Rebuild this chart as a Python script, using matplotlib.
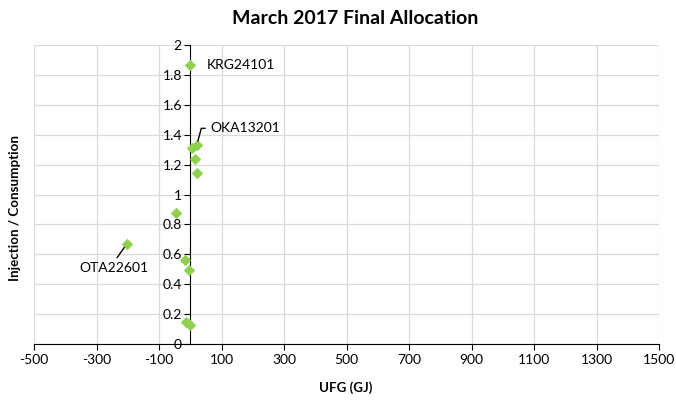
import matplotlib
matplotlib.use("Agg")
import matplotlib.pyplot as plt

ufg = [-2, 5, 21, 14, 21, -45, -203, -16, -3, -13, 0]
ratio = [1.866, 1.309, 1.331, 1.235, 1.142, 0.874, 0.669, 0.562, 0.495, 0.149, 0.125]
xticks = list(range(-500, 1501, 200))
yticks = [0, 0.2, 0.4, 0.6, 0.8, 1, 1.2, 1.4, 1.6, 1.8, 2]
ylabels = ["0", "0.2", "0.4", "0.6", "0.8", "1", "1.2", "1.4", "1.6", "1.8", "2"]

plt.rcParams['font.family'] = ['Lato', 'DejaVu Sans']
plt.rcParams['axes.unicode_minus'] = False

fig = plt.figure(figsize=(6.76, 4.0), dpi=100)
ax = fig.add_axes([34/676, 1 - 344/400, 625/676, 299/400])

ax.scatter(ufg, ratio, marker='D', s=34, color='#8fd14f', zorder=3, linewidths=0)

ax.set_xlim(-500, 1500)
ax.set_ylim(0, 2)
ax.set_xticks(xticks)
ax.set_yticks(yticks)
ax.set_yticklabels(ylabels)
ax.grid(True, color='#d9d9d9', linewidth=0.9)
ax.set_axisbelow(True)

ax.spines['left'].set_position(('data', 0))
ax.spines['right'].set_visible(False)
ax.spines['top'].set_visible(False)
ax.spines['left'].set_color('black')
ax.spines['bottom'].set_color('black')
ax.tick_params(axis='both', direction='out', length=4, labelsize=10, colors='black')
ax.tick_params(axis='y', pad=2)

# labels for a few points
ax.annotate("KRG24101", (ufg[0], ratio[0]), xytext=(12, 0), textcoords='offset points',
            va='center', fontsize=10)
ax.annotate("OKA13201", (ufg[2], ratio[2]), xytext=(10, 12), textcoords='offset points',
            va='center', fontsize=10,
            arrowprops=dict(arrowstyle='-', color='black', lw=1,
                            connectionstyle='angle,angleA=0,angleB=75,rad=0',
                            shrinkA=2, shrinkB=3))
ax.annotate("OTA22601", (ufg[6], ratio[6]), xytext=(-9, -17), textcoords='offset points',
            ha='center', va='center', fontsize=10,
            arrowprops=dict(arrowstyle='-', color='black', lw=1, relpos=(0.5, 1.0),
                            shrinkA=1, shrinkB=3))

fig.text(355/676, 1 - 19/400, "March 2017 Final Allocation", ha='center', va='center',
         fontsize=14, fontweight='bold')
fig.text(15/676, 1 - 208/400, "Injection / Consumption", ha='center', va='center',
         rotation=90, fontsize=9.6, fontweight='bold')
fig.text(346/676, 1 - 388/400, "UFG (GJ)", ha='center', va='center',
         fontsize=9.6, fontweight='bold')

fig.savefig("out.png", dpi=100)
